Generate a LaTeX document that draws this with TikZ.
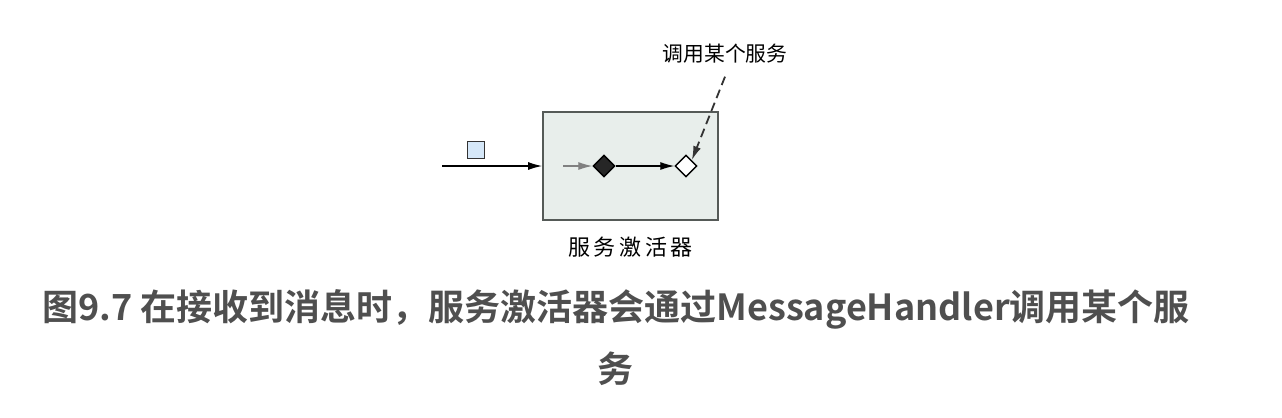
\documentclass[tikz,border=0pt]{standalone}
\usepackage{fontspec}
\newfontfamily\cjk{Noto Sans CJK SC}
\newfontfamily\cjkbold{Noto Sans CJK SC Bold}
\usetikzlibrary{positioning,shapes.geometric,arrows.meta}
\definecolor{boxfill}{HTML}{E8EEEB}
\definecolor{boxline}{HTML}{555A57}
\definecolor{msgfill}{HTML}{D5E7F8}
\definecolor{capgray}{HTML}{4F4F4F}
\tikzset{
  arr/.style={-{Latex[length=7pt,width=4pt]},line width=0.6pt},
  actbox/.style={rectangle,draw=boxline,fill=boxfill,line width=0.9pt,minimum width=87.5pt,minimum height=54pt,inner sep=0pt},
  msgbox/.style={rectangle,draw=black!80,fill=msgfill,line width=0.6pt,minimum size=8.5pt,inner sep=0pt},
  dia/.style={diamond,draw=black,line width=0.7pt,minimum width=11pt,minimum height=11pt,inner sep=0pt},
}
\begin{document}
\begin{tikzpicture}[x=0.5pt,y=-0.5pt]
      \useasboundingbox (0,0) rectangle (1282,418);

      \node[actbox] (act) at (630.5,166){};
      \node[below=4.5pt of act,font=\cjk\fontsize{11pt}{13pt}\selectfont] (actlbl){服\,务\,激\,活\,器};
      \node[msgbox] (msg) at (476,150){};
      \coordinate (in) at (442,166);
      \coordinate (gin) at (563,166);
      \node[dia,fill=black!85] (hd) at (604,166){};
      \node[dia,fill=white] (svc) at (686,166){};
      \node[font=\cjk\fontsize{10.4pt}{12pt}\selectfont] (call) at (725,54){调用某个服务};

      \draw[arr] (in) -- (act);
      \draw[arr,draw=gray,-{Latex[length=7pt,width=4pt,fill=gray]}] (gin) -- (hd);
      \draw[arr] (hd) -- (svc);
      \draw[arr,dashed,line width=0.9pt,dash pattern=on 4.5pt off 2.5pt,draw=black!80] ([yshift=-3pt]call.south) -- (svc.north east);

      \node[font=\cjkbold\fontsize{18pt}{31pt}\selectfont,text=capgray,align=center] (cap) at (616,338){图9.7 在接收到消息时，服务激活器会通过MessageHandler调用某个服\\务};

    \end{tikzpicture}
\end{document}
